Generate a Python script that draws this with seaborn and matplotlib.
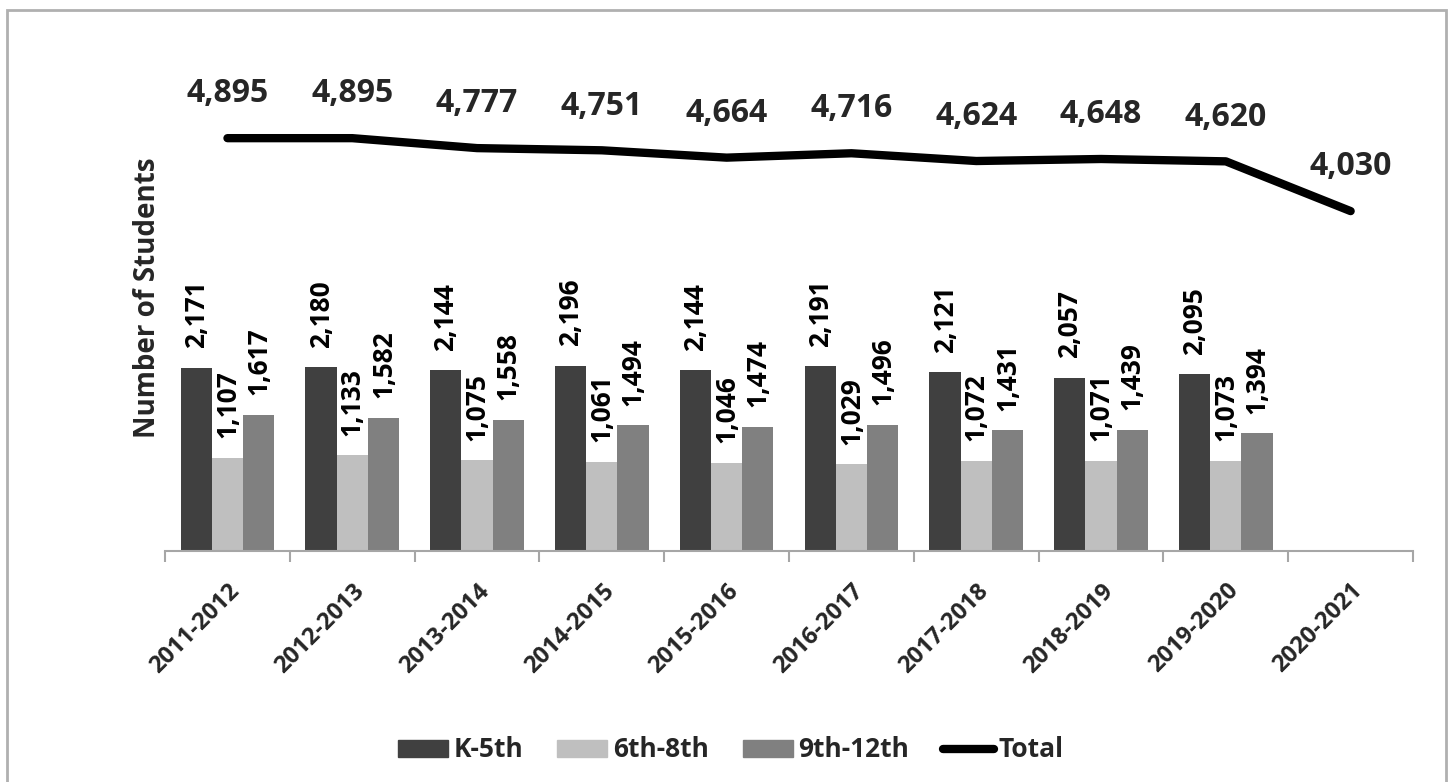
import numpy as np
import pandas as pd
import matplotlib
matplotlib.use("Agg")
import matplotlib.pyplot as plt
from matplotlib.patches import Rectangle
from matplotlib.lines import Line2D
import seaborn as sns

# Enrollment by school year
years = ["2011-2012", "2012-2013", "2013-2014", "2014-2015", "2015-2016",
         "2016-2017", "2017-2018", "2018-2019", "2019-2020", "2020-2021"]
k5 = [2171, 2180, 2144, 2196, 2144, 2191, 2121, 2057, 2095, np.nan]
g68 = [1107, 1133, 1075, 1061, 1046, 1029, 1072, 1071, 1073, np.nan]
g912 = [1617, 1582, 1558, 1494, 1474, 1496, 1431, 1439, 1394, np.nan]
total = [4895, 4895, 4777, 4751, 4664, 4716, 4624, 4648, 4620, 4030]

groups = ["K-5th", "6th-8th", "9th-12th"]
colors = ["#404040", "#BFBFBF", "#808080"]

sns.set_theme(style="white")
plt.rcParams["font.family"] = ["Open Sans", "DejaVu Sans"]
plt.rcParams["font.weight"] = "bold"

long = pd.DataFrame({
    "year": np.repeat(years, 3),
    "group": groups * len(years),
    "students": np.ravel(np.column_stack([k5, g68, g912])),
})

fig = plt.figure(figsize=(14.53, 7.82), dpi=100)
ax = fig.add_axes([0.1136, 0.2954, 0.8589, 0.6471])

sns.barplot(data=long, x="year", y="students", hue="group", order=years,
            hue_order=groups, palette=colors, width=0.75, linewidth=0,
            saturation=1, ax=ax, legend=False)

for cont in ax.containers:
    ax.bar_label(cont, labels=[("" if np.isnan(v) else f"{v:,.0f}") for v in cont.datavalues],
                 rotation=90, padding=14, fontsize=19, fontweight="bold", color="black")

xpos = np.arange(len(years))
sns.lineplot(x=xpos, y=total, color="black", linewidth=6, ax=ax, legend=False,
             solid_capstyle="round", solid_joinstyle="round")
for x, v in zip(xpos, total):
    ax.annotate(f"{v:,.0f}", (x, v), xytext=(0, 20), textcoords="offset points",
                ha="center", va="bottom", fontsize=23, fontweight="bold")

ax.set_xlim(-0.5, len(years) - 0.5)
ax.set_ylim(0, 6000)
ax.set_xlabel("")
ax.set_ylabel("Number of Students", fontsize=20, fontweight="bold", labelpad=2)
ax.set_yticks([])
for side in ["top", "right", "left"]:
    ax.spines[side].set_visible(False)
ax.spines["bottom"].set_color("#A6A6A6")
ax.spines["bottom"].set_linewidth(1.5)

ax.set_xticks(xpos)
ax.set_xticklabels(years, rotation=45, ha="right", rotation_mode="anchor",
                   fontsize=17, fontweight="bold")
ax.tick_params(axis="x", which="major", length=0, pad=20)
ax.set_xticks(np.arange(-0.5, len(years)), minor=True)
ax.tick_params(axis="x", which="minor", length=8, width=1.5, color="#A6A6A6", bottom=True)

handles = [Rectangle((0, 0), 1, 1, color=c) for c in colors]
handles.append(Line2D([0], [0], color="black", linewidth=6, solid_capstyle="round"))
fig.legend(handles, groups + ["Total"], loc="center", bbox_to_anchor=(0.503, 0.041),
           ncol=4, frameon=False, prop={"size": 19, "weight": "bold"},
           handlelength=1.9, handleheight=0.6, columnspacing=1.3, handletextpad=0.2)

fig.patches.append(Rectangle((7 / 1453, -0.05), 1439 / 1453, 0.05 + 772 / 782,
                             transform=fig.transFigure, fill=False,
                             edgecolor="#B0B0B0", linewidth=2))

fig.savefig("out.png", dpi=100)
